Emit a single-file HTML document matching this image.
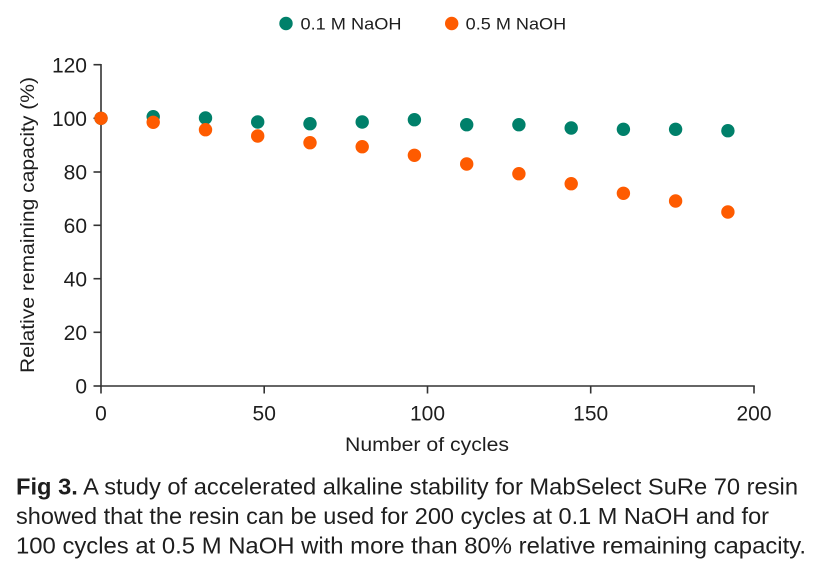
<!DOCTYPE html>
<html>
<head>
<meta charset="utf-8">
<style>
html,body{margin:0;padding:0;background:#fff;}
svg{display:block;}
text{font-family:"Liberation Sans",Arial,sans-serif;fill:#1e1e1e;}
</style>
</head>
<body>
<svg width="828" height="577" viewBox="0 0 828 577" xmlns="http://www.w3.org/2000/svg">
<rect width="828" height="577" fill="#fff"/>
<!-- Legend -->
<circle cx="286" cy="23.5" r="6.7" fill="#00806a"/>
<text x="300.5" y="29.5" font-size="17" textLength="101" lengthAdjust="spacingAndGlyphs">0.1 M NaOH</text>
<circle cx="451.7" cy="23.5" r="6.7" fill="#fe5b00"/>
<text x="465.7" y="29.5" font-size="17" textLength="100.5" lengthAdjust="spacingAndGlyphs">0.5 M NaOH</text>

<!-- Axes -->
<g stroke="#333" stroke-width="1.6" fill="none">
<line x1="101" y1="64" x2="101" y2="386.8"/>
<line x1="100.2" y1="386" x2="754.8" y2="386"/>
<line x1="93.5" y1="64.7" x2="101" y2="64.7"/>
<line x1="93.5" y1="118.3" x2="101" y2="118.3"/>
<line x1="93.5" y1="172" x2="101" y2="172"/>
<line x1="93.5" y1="225.3" x2="101" y2="225.3"/>
<line x1="93.5" y1="278.7" x2="101" y2="278.7"/>
<line x1="93.5" y1="332.3" x2="101" y2="332.3"/>
<line x1="93.5" y1="386" x2="101" y2="386"/>
<line x1="101" y1="386" x2="101" y2="393.5"/>
<line x1="264.2" y1="386" x2="264.2" y2="393.5"/>
<line x1="427.5" y1="386" x2="427.5" y2="393.5"/>
<line x1="590.7" y1="386" x2="590.7" y2="393.5"/>
<line x1="754" y1="386" x2="754" y2="393.5"/>
</g>

<!-- Y tick labels -->
<g font-size="21" text-anchor="end">
<text x="87" y="72.3">120</text>
<text x="87" y="125.9">100</text>
<text x="87" y="179.6">80</text>
<text x="87" y="232.9">60</text>
<text x="87" y="286.3">40</text>
<text x="87" y="339.9">20</text>
<text x="87" y="393.6">0</text>
</g>
<!-- X tick labels -->
<g font-size="21" text-anchor="middle">
<text x="101" y="420.5">0</text>
<text x="264.2" y="420.5">50</text>
<text x="427.5" y="420.5">100</text>
<text x="590.7" y="420.5">150</text>
<text x="754" y="420.5">200</text>
</g>

<!-- Axis titles -->
<text x="345" y="451" font-size="19.5" textLength="164" lengthAdjust="spacingAndGlyphs">Number of cycles</text>
<text transform="translate(34,373) rotate(-90)" font-size="19.5" textLength="296" lengthAdjust="spacingAndGlyphs">Relative remaining capacity (%)</text>

<!-- Green series -->
<g fill="#00806a">
<circle cx="101" cy="118.3" r="6.7"/>
<circle cx="153.2" cy="116.7" r="6.7"/>
<circle cx="205.5" cy="118" r="6.7"/>
<circle cx="257.7" cy="122" r="6.7"/>
<circle cx="310" cy="123.7" r="6.7"/>
<circle cx="362.2" cy="122" r="6.7"/>
<circle cx="414.4" cy="119.7" r="6.7"/>
<circle cx="466.7" cy="124.7" r="6.7"/>
<circle cx="518.9" cy="124.7" r="6.7"/>
<circle cx="571.2" cy="128" r="6.7"/>
<circle cx="623.4" cy="129.3" r="6.7"/>
<circle cx="675.6" cy="129.3" r="6.7"/>
<circle cx="727.9" cy="130.7" r="6.7"/>
</g>
<!-- Orange series -->
<g fill="#fe5b00">
<circle cx="101" cy="118.3" r="6.7"/>
<circle cx="153.2" cy="122.3" r="6.7"/>
<circle cx="205.5" cy="129.7" r="6.7"/>
<circle cx="257.7" cy="136" r="6.7"/>
<circle cx="310" cy="142.7" r="6.7"/>
<circle cx="362.2" cy="146.7" r="6.7"/>
<circle cx="414.4" cy="155.3" r="6.7"/>
<circle cx="466.7" cy="164" r="6.7"/>
<circle cx="518.9" cy="173.7" r="6.7"/>
<circle cx="571.2" cy="183.7" r="6.7"/>
<circle cx="623.4" cy="193.3" r="6.7"/>
<circle cx="675.6" cy="201" r="6.7"/>
<circle cx="727.9" cy="212" r="6.7"/>
</g>

<!-- Caption -->
<g font-size="23">
<text x="16" y="494.5" textLength="782" lengthAdjust="spacingAndGlyphs"><tspan font-weight="bold">Fig 3.</tspan> A study of accelerated alkaline stability for MabSelect SuRe 70 resin</text>
<text x="16" y="524" textLength="753" lengthAdjust="spacingAndGlyphs">showed that the resin can be used for 200 cycles at 0.1 M NaOH and for</text>
<text x="16" y="553.5" textLength="790" lengthAdjust="spacingAndGlyphs">100 cycles at 0.5 M NaOH with more than 80% relative remaining capacity.</text>
</g>
</svg>
</body>
</html>
